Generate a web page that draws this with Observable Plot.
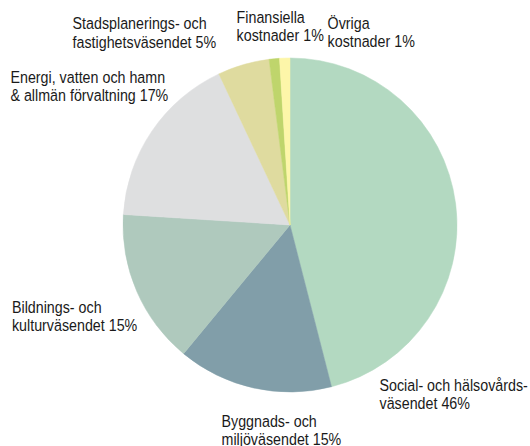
<!DOCTYPE html>
<html>
<head>
<meta charset="utf-8">
<script src="https://cdn.jsdelivr.net/npm/d3@7"></script>
<script src="https://cdn.jsdelivr.net/npm/@observablehq/plot@0.6"></script>
<style>
  html, body { margin: 0; padding: 0; background: #fff; }
  #chart svg { display: block; }
</style>
</head>
<body>
<div id="chart"></div>
<script>
// Categories (clockwise from 12 o'clock) and their shares (%)
const categories = [
  "Social- och hälsovårds-\nväsendet 46%",
  "Byggnads- och\nmiljöväsendet 15%",
  "Bildnings- och\nkulturväsendet 15%",
  "Energi, vatten och hamn\n& allmän förvaltning 17%",
  "Stadsplanerings- och\nfastighetsväsendet 5%",
  "Finansiella\nkostnader 1%",
  "Övriga\nkostnader 1%"
];
const shares = [46, 15, 15, 17, 5, 1, 1];
const colors = ["#b3d9c1", "#819ea9", "#afc9bd", "#dedfe0", "#dfdb9f", "#bfd56c", "#fdf6a9"];
// Label anchor positions in pie-radius units (pie centre = 0,0; radius = 1; y downward)
const labelX = [0.533, -0.413, -1.668, -1.677, -1.305, -0.323, 0.222];
const labelY = [0.910, 1.126, 0.443, -0.934, -1.254, -1.293, -1.257];

const W = 530, H = 446, CX = 290, CY = 225, R = 167;
const CONDENSE = 0.84;

const slices = categories.map((c, i) => ({label: c, value: shares[i], color: colors[i], lx: labelX[i], ly: labelY[i]}));
const arcs = d3.pie().sort(null).value(d => d.value).startAngle(0).endAngle(2 * Math.PI)(slices);

function pieMark(index, scales) {
  const sx = scales && scales.x ? scales.x : (v => CX + v * R);
  const sy = scales && scales.y ? scales.y : (v => CY + v * R);
  const cx = sx(0), cy = sy(0), r = sx(1) - sx(0);
  const arc = d3.arc().innerRadius(0).outerRadius(r);
  const g = d3.create("svg:g").attr("transform", `translate(${cx},${cy})`);
  g.selectAll("path").data(arcs).join("path")
    .attr("d", arc)
    .attr("fill", d => d.data.color)
    .attr("stroke", d => d.data.color)
    .attr("stroke-width", 0.5);
  return g.node();
}

const chart = Plot.plot({
  width: W,
  height: H,
  margin: 0,
  x: {domain: [-CX / R, (W - CX) / R], range: [0, W], axis: null},
  y: {domain: [-CY / R, (H - CY) / R], range: [0, H], axis: null},
  style: {background: "#fff"},
  marks: [
    pieMark,
    Plot.text(slices, {
      x: "lx", y: "ly", text: "label",
      textAnchor: "start", lineAnchor: "top", lineHeight: 1.09,
      fontSize: 17, fill: "#1a1a1a",
      fontFamily: "'Liberation Sans', Arial, sans-serif"
    })
  ]
});

// Emulate the condensed typeface of the original by narrowing each label horizontally
d3.select(chart).selectAll("text").each(function() {
  const el = this;
  let t = el.getAttribute("transform") || "";
  if (el.hasAttribute("x") || el.hasAttribute("y")) {
    const x = +el.getAttribute("x") || 0, y = +el.getAttribute("y") || 0;
    el.removeAttribute("x"); el.removeAttribute("y");
    t = `${t} translate(${x},${y})`;
  }
  el.setAttribute("transform", `${t} scale(${CONDENSE},1)`);
});

document.getElementById("chart").appendChild(chart);
</script>
</body>
</html>
